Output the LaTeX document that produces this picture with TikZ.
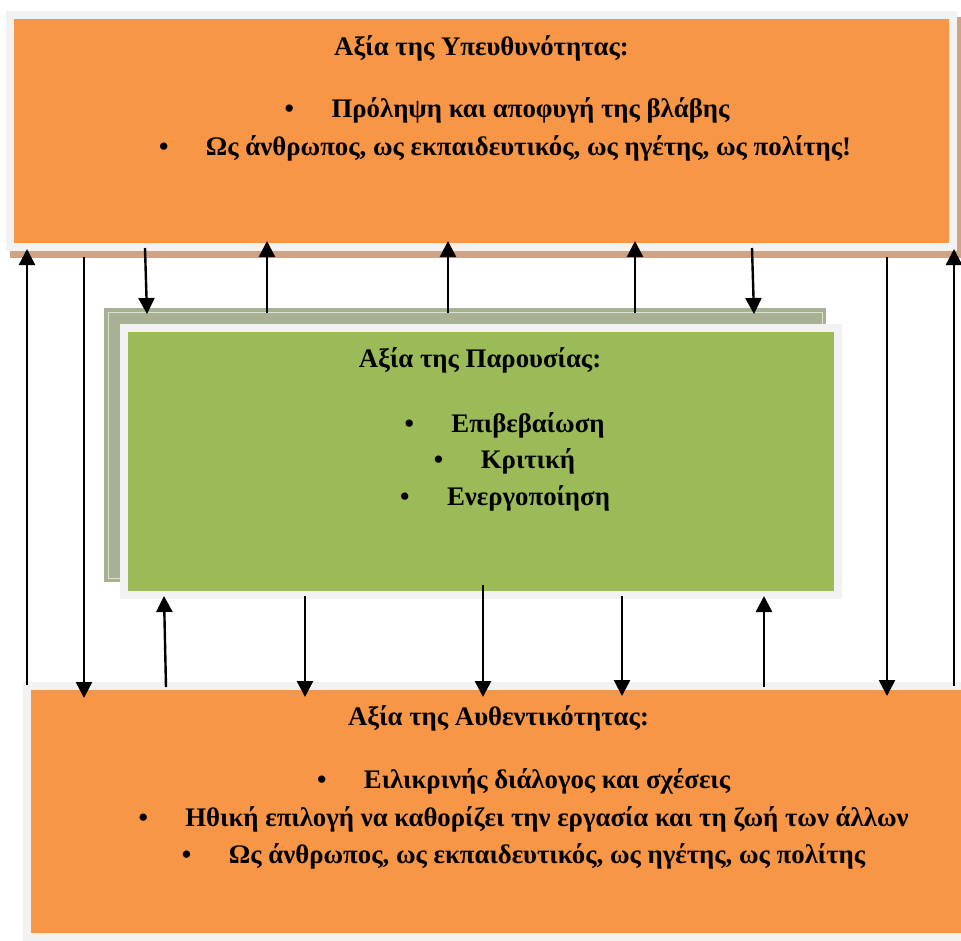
\documentclass[tikz,border=0pt]{standalone}
\usepackage{fontspec}
\setmainfont{Liberation Serif}
\usetikzlibrary{arrows.meta}
\definecolor{boxorange}{HTML}{F79646}
\definecolor{boxgreen}{HTML}{9BBB59}
\definecolor{framegray}{HTML}{F2F2F2}
\definecolor{tanshadow}{HTML}{CFA486}
\definecolor{greenshadow}{HTML}{A8B194}
\definecolor{shadowline}{HTML}{DCE0D2}
\tikzset{
  panel/.style={draw=framegray, line width=8pt, inner sep=0pt, outer sep=0pt, anchor=north west},
  label/.style={font=\fontsize{26.8}{32}\selectfont\bfseries, inner sep=0pt, anchor=base},
  dot/.style={font=\fontsize{26.8}{32}\selectfont\bfseries, inner sep=0pt, anchor=base},
  link/.style={line width=2.4pt, -{Triangle[width=16pt,length=16pt]}},
}
\newcommand{\bulletline}[4]{%
  \node[label] (#1) at (#2,#3) {#4};
  \node[dot] (#1b) at ([xshift=-42pt]#1.base west) {\textbullet};
}
\begin{document}
\begin{tikzpicture}[x=1pt,y=-1pt]
\useasboundingbox (0,0) rectangle (961,940);

% top panel: shadow, frame and orange face
\fill[tanshadow] (9.5,17) rectangle (960.5,257.5);
\node[panel, fill=boxorange, minimum width=943pt, minimum height=232pt] (resp) at (10,15) {};

% middle panel: back card and green face
\node[fill=greenshadow, inner sep=0pt, outer sep=0pt, anchor=north west,
      minimum width=722pt, minimum height=274pt] (presback) at (104,308) {};
\draw[shadowline, line width=0.8pt] (108,312) rectangle (822,578);
\node[panel, fill=boxgreen, minimum width=714pt, minimum height=267pt] (pres) at (124,327.5) {};

% bottom panel
\node[panel, fill=boxorange, minimum width=945pt, minimum height=251pt] (auth) at (27,686) {};

% texts of the top panel
\node[label] (respt) at (481.5,55) {Αξία της Υπευθυνότητας:};
\bulletline{r1}{530.5}{117}{Πρόληψη και αποφυγή της βλάβης}
\bulletline{r2}{528.5}{155}{Ως άνθρωπος, ως εκπαιδευτικός, ως ηγέτης, ως πολίτης!}

% texts of the middle panel
\node[label] (prest) at (480,367) {Αξία της Παρουσίας:};
\bulletline{p1}{528}{432}{Επιβεβαίωση}
\bulletline{p2}{528}{468}{Κριτική}
\bulletline{p3}{528.5}{505}{Ενεργοποίηση}

% texts of the bottom panel
\node[label] (autht) at (498.5,725) {Αξία της Αυθεντικότητας:};
\bulletline{a1}{547}{788}{Ειλικρινής διάλογος και σχέσεις}
\bulletline{a2}{547}{826}{Ηθική επιλογή να καθορίζει την εργασία και τη ζωή των άλλων}
\bulletline{a3}{547}{863}{Ως άνθρωπος, ως εκπαιδευτικός, ως ηγέτης, ως πολίτης}

% connectors between the panels
\foreach \n/\xa/\ya/\xb/\yb in {
  1/27/685/27/249,
  2/84/257/84/698,
  3/145/248/147/314,
  4/267/313/267/241,
  5/448/313/448/241,
  6/635/313/635/241,
  7/752/248/754/314,
  8/887/257/887/696,
  9/954/686/954/249,
  10/166/687/164/596,
  11/305/596/305/697,
  12/483/585/483/697,
  13/622/596/622/696,
  14/764/687/764/596} {
  \coordinate (c\n s) at (\xa,\ya);
  \coordinate (c\n e) at (\xb,\yb);
  \draw[link] (c\n s) -- (c\n e);
}
\end{tikzpicture}
\end{document}
